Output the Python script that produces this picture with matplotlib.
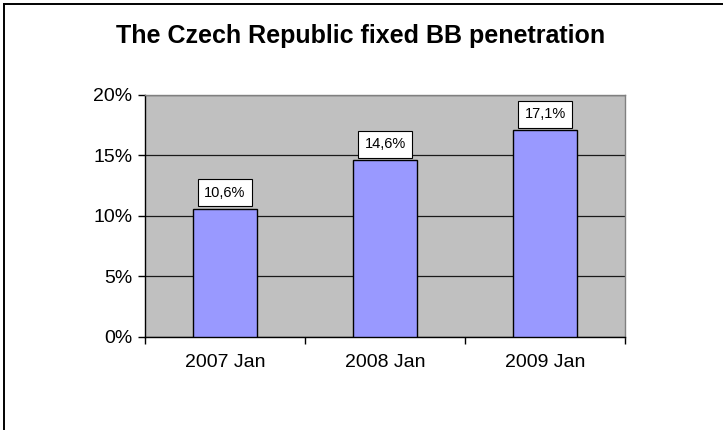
import numpy as np
import matplotlib.pyplot as plt
from matplotlib.lines import Line2D
from matplotlib.ticker import FuncFormatter, FixedLocator

plt.rcParams['font.family'] = ['Liberation Sans', 'DejaVu Sans']

# data
categories = ['2007 Jan', '2008 Jan', '2009 Jan']
penetration = [10.6, 14.6, 17.1]
value_labels = ['10,6%', '14,6%', '17,1%']
title = 'The Czech Republic fixed BB penetration'

fig = plt.figure(figsize=(7.23, 4.30), dpi=100)
ax = fig.add_axes([0.2006, 0.2163, 0.6639, 0.5637])

x = np.arange(len(categories))
ax.bar(x, penetration, width=0.4, color='#9999FF', edgecolor='black',
       linewidth=1.0, zorder=3)

for xi, v, lab in zip(x, penetration, value_labels):
    ax.annotate(lab, (xi, v), xytext=(0, 6.2), textcoords='offset points',
                ha='center', va='bottom', fontsize=10.5,
                bbox=dict(boxstyle='square,pad=0.45', fc='white', ec='black', lw=0.8),
                zorder=5)

ax.set_xlim(-0.5, 2.5)
ax.set_ylim(0, 20)
ax.set_facecolor('#C0C0C0')

ax.yaxis.set_major_locator(FixedLocator([0, 5, 10, 15, 20]))
ax.yaxis.set_major_formatter(FuncFormatter(lambda v, p: f'{v:.0f}%'))
ax.set_xticks(x)
ax.set_xticklabels(categories)
ax.tick_params(axis='x', length=0, labelsize=14, pad=12)
ax.set_xticks([-0.5, 0.5, 1.5, 2.5], minor=True)
ax.tick_params(axis='x', which='minor', length=5, width=1, direction='out', color='black')
ax.tick_params(axis='y', length=5, width=1, direction='out', labelsize=14, pad=4)

ax.grid(axis='y', color='#1a1a1a', linewidth=0.9, zorder=1)
ax.set_axisbelow(True)

ax.spines['left'].set_color('black')
ax.spines['bottom'].set_color('black')
ax.spines['top'].set_color('#808080')
ax.spines['right'].set_color('#808080')
for s in ax.spines.values():
    s.set_linewidth(1.0)

fig.text(0.4993, 0.916, title, ha='center', va='center', fontsize=18, fontweight='bold')

# outer frame (left and top edges visible)
fig.add_artist(Line2D([3.5 / 723, 3.5 / 723], [0, 1 - 3.5 / 430], transform=fig.transFigure,
                      color='black', lw=1.4))
fig.add_artist(Line2D([3.5 / 723, 1], [1 - 3.5 / 430, 1 - 3.5 / 430], transform=fig.transFigure,
                      color='black', lw=1.4))

fig.savefig('out.png', dpi=100)
